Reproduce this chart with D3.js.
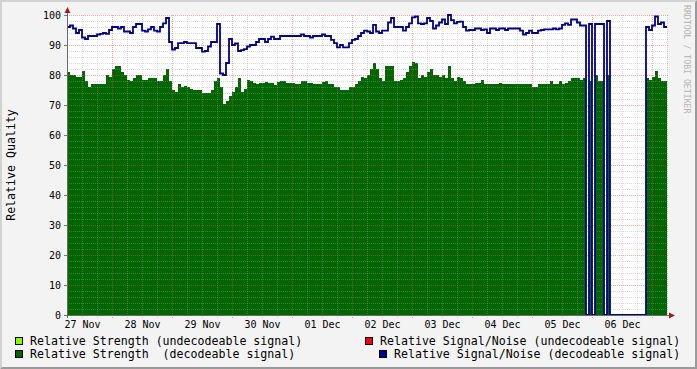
<!DOCTYPE html>
<html>
<head>
<meta charset="utf-8">
<script src="https://cdn.jsdelivr.net/npm/d3@7"></script>
<style>
  html, body { margin: 0; padding: 0; background: #f3f3f3; }
  svg { display: block; font-family: "DejaVu Sans Mono", monospace; }
</style>
</head>
<body>
<svg id="chart" width="697" height="369"></svg>
<script>
// one sample every 72 minutes, 27 Nov 06:00 -> 07 Dec 06:00
const startTime = "2008-11-27T06:00:00Z";
const endTime = "2008-12-07T06:00:00Z";
const stepMinutes = 72;

// relative strength (decodeable signal)
const strength = [
  81, 80, 80, 79.5, 79.5, 81.5, 78, 76, 77, 77,
  77, 77, 77, 80, 79.5, 82, 83, 83, 81, 80,
  78.3, 78, 79, 80, 80, 78.5, 78.5, 79, 79, 79,
  78, 78, 80, 82, 78, 75, 74.5, 77, 76, 76.5,
  76, 75.5, 75, 75, 75, 74, 74, 74, 75, 78,
  79, 76, 70.5, 71.5, 73, 74.5, 76, 79, 74.5, 75.5,
  78.3, 78, 77.2, 77, 77.2, 77.2, 77.7, 77.4, 77.2, 76.7,
  77.7, 78, 78, 77.2, 77.2, 77.2, 77, 77, 78, 78,
  77.5, 77.5, 77, 77, 77, 77.8, 78, 77, 77, 76,
  76, 75, 75, 75, 76, 76, 77, 78, 79.4, 79,
  80, 82, 84, 82, 79, 78, 83, 83, 83, 78,
  78, 78.5, 79, 81, 83, 84.5, 84, 79, 80, 79.5,
  81, 82, 80, 80, 79.5, 80, 79, 83, 79, 78,
  79.5, 79, 78, 77, 77, 77, 77.5, 77.5, 78.5, 77,
  77, 77, 77, 77, 77.5, 77, 77, 77, 77, 77,
  77, 77, 77, 77, 77, 76, 76, 77, 77, 77,
  77, 78, 77, 77, 78, 77, 77.5, 78, 79, 79,
  79, 78.5, 79, 0, 78, 0, 80, 78, 78, 0,
  80, 0, 0, 0, 0, 0, 0, 0, 0, 0,
  0, 0, 0, 79, 78.5, 79.5, 81.5, 79, 78, 78
];

// relative signal/noise (decodeable signal)
const signalNoise = [
  96, 96.5, 95.5, 94, 95, 92.5, 92, 93, 93, 93,
  93.5, 93.7, 94, 93.7, 95, 96, 96, 95.5, 96, 94.5,
  94.5, 94, 96, 97, 97, 94.8, 94.5, 95.2, 96, 94.8,
  94.5, 96, 97.2, 99, 91, 88.5, 89, 90.6, 90.6, 91,
  90.6, 90.6, 90.6, 89, 89, 87.8, 88, 89.5, 91, 91,
  97, 80.5, 80, 84, 92, 90, 90.5, 88, 88.3, 88.6,
  89.5, 90, 90, 91, 92, 92, 91, 92, 92.8, 92,
  92, 93, 93, 93, 93, 93, 93, 93, 93.5, 93,
  93, 92.5, 93, 93, 93, 93.5, 93, 93, 91.7, 90.6,
  89.2, 90, 89.2, 89.2, 90.6, 91.7, 92, 93, 94, 94.8,
  94.5, 94, 96.7, 94.5, 94, 94.8, 94.8, 97.5, 99, 96,
  96, 96, 94.8, 96, 97.2, 99.2, 99.5, 97.2, 97, 97.2,
  99, 98, 95.5, 96.5, 97.5, 98.5, 97, 100, 98.3, 97.2,
  97.7, 97.8, 96, 94.8, 95, 95, 95.5, 95.5, 95, 95.2,
  94, 95.5, 95.5, 95, 95.5, 95.5, 95, 95.5, 95.5, 95.5,
  95.5, 94.8, 93.5, 94, 94.8, 94, 94, 94.8, 95, 95.2,
  95.2, 95.2, 95.5, 95.2, 95.5, 96.7, 97.2, 96.7, 98.5, 98.5,
  97.5, 96.5, 96.5, 0, 97, 0, 97, 97, 97, 0,
  98, 0, 0, 0, 0, 0, 0, 0, 0, 0,
  0, 0, 0, 96, 95, 96.5, 99.5, 97, 97.5, 96
];

const yTickValues = [0, 10, 20, 30, 40, 50, 60, 70, 80, 90, 100];
const dayTicks = ["2008-11-27", "2008-11-28", "2008-11-29", "2008-11-30", "2008-12-01",
                  "2008-12-02", "2008-12-03", "2008-12-04", "2008-12-05", "2008-12-06"];
const dayLabels = ["27 Nov", "28 Nov", "29 Nov", "30 Nov", "01 Dec",
                   "02 Dec", "03 Dec", "04 Dec", "05 Dec", "06 Dec"];

const legendLeft = ["Relative Strength (undecodeable signal)", "Relative Strength  (decodeable signal)"];
const legendRight = ["Relative Signal/Noise (undecodeable signal)", "Relative Signal/Noise (decodeable signal)"];

const svg = d3.select("#chart"),
  W = +svg.attr("width"),
  H = +svg.attr("height"),
  margin = { top: 15, right: 30, bottom: 54, left: 67 };

const t0 = new Date(startTime), t1 = new Date(endTime);
const stepMs = stepMinutes * 60 * 1000;

const x = d3.scaleUtc().domain([t0, t1]).range([margin.left, W - margin.right]);
const y = d3.scaleLinear().domain([0, 100]).range([H - margin.bottom, margin.top]);

// frame
svg.append("rect").attr("width", W).attr("height", H).attr("fill", "#f3f3f3");
svg.append("path").attr("d", `M0,0H${W}L${W - 2},2H2V${H - 2}L0,${H}Z`).attr("fill", "#d2d2d2");
svg.append("path").attr("d", `M${W},0V${H}H0L2,${H - 2}H${W - 2}V2Z`).attr("fill", "#9a9a9a");

// plot canvas
svg.append("rect")
  .attr("x", x.range()[0]).attr("y", y(100))
  .attr("width", x.range()[1] - x.range()[0]).attr("height", y(0) - y(100))
  .attr("fill", "#ffffff");

function toPoints(arr) {
  const pts = arr.map((v, i) => ({ t: new Date(t0.getTime() + i * stepMs), v: v }));
  pts.push({ t: t1, v: arr[arr.length - 1] });
  return pts;
}

const area = d3.area()
  .x(d => x(d.t)).y0(y(0)).y1(d => y(d.v))
  .curve(d3.curveStepAfter);

svg.append("path")
  .datum(toPoints(strength))
  .attr("fill", "#006600")
  .attr("shape-rendering", "crispEdges")
  .attr("d", area);

// grid (drawn over the area, like rrdtool)
const grid = svg.append("g").attr("shape-rendering", "crispEdges");
const hGrid = d3.range(2, 101, 2);
grid.selectAll(".hg").data(hGrid).enter().append("line")
  .attr("x1", x.range()[0]).attr("x2", x.range()[1] + 2)
  .attr("y1", d => y(d)).attr("y2", d => y(d))
  .attr("stroke", d => d % 10 === 0 ? "#e05050" : "#a0a0a0")
  .attr("stroke-opacity", d => d % 10 === 0 ? 0.5 : 0.4)
  .attr("stroke-dasharray", "1,1");

const vGrid = d3.utcHour.every(6).range(new Date(t0.getTime() + 1), new Date(t1.getTime() + 1));
grid.selectAll(".vg").data(vGrid).enter().append("line")
  .attr("x1", d => x(d)).attr("x2", d => x(d))
  .attr("y1", y(100)).attr("y2", y(0) + 3)
  .attr("stroke", d => d.getUTCHours() === 0 ? "#e05050" : "#a0a0a0")
  .attr("stroke-opacity", d => d.getUTCHours() === 0 ? 0.5 : 0.4)
  .attr("stroke-dasharray", "1,1");

// signal/noise line
const line = d3.line()
  .x(d => x(d.t)).y(d => y(d.v))
  .curve(d3.curveStepAfter);

svg.append("path")
  .datum(toPoints(signalNoise))
  .attr("fill", "none")
  .attr("stroke", "#000088")
  .attr("stroke-width", 1.8)
  .attr("d", line);

// axes
const yAxis = svg.append("g")
  .attr("transform", "translate(" + margin.left + ",0)")
  .call(d3.axisLeft(y).tickValues(yTickValues).tickSize(3).tickPadding(3));
yAxis.select(".domain").remove();
yAxis.selectAll("line").attr("stroke", "#777");
yAxis.selectAll("text").attr("font-size", 10).attr("fill", "#000")
  .attr("font-family", "DejaVu Sans Mono");

const xAxis = svg.append("g")
  .attr("transform", "translate(0," + y(0) + ")")
  .call(d3.axisBottom(x)
    .tickValues(dayTicks.map(d => new Date(d + "T12:00:00Z")))
    .tickSize(0).tickPadding(6)
    .tickFormat((d, i) => dayLabels[i]));
xAxis.select(".domain").remove();
xAxis.selectAll("text").attr("font-size", 10).attr("fill", "#000")
  .attr("font-family", "DejaVu Sans Mono");

// axis lines + arrows
svg.append("line")
  .attr("x1", margin.left + 0.5).attr("x2", margin.left + 0.5)
  .attr("y1", y(0) + 3).attr("y2", 10)
  .attr("stroke", "#6a6a6a");
svg.append("line")
  .attr("x1", margin.left - 3).attr("x2", x.range()[1] + 4)
  .attr("y1", y(0) + 0.5).attr("y2", y(0) + 0.5)
  .attr("stroke", "#6a6a6a");
svg.append("path")
  .attr("d", `M${margin.left + 0.5},7L${margin.left + 3.5},13H${margin.left - 2.5}Z`)
  .attr("fill", "#a02020");
svg.append("path")
  .attr("d", `M${x.range()[1] + 8},${y(0) + 0.5}L${x.range()[1] + 2},${y(0) - 2.5}V${y(0) + 3.5}Z`)
  .attr("fill", "#a02020");

// y-axis title
svg.append("text")
  .attr("transform", "translate(14.5," + ((y(0) + y(100)) / 2) + ") rotate(-90)")
  .attr("text-anchor", "middle")
  .attr("font-size", 11.6)
  .text("Relative Quality");

// watermark
svg.append("text")
  .attr("transform", "translate(683.5,5) rotate(90)")
  .attr("font-size", 8.2)
  .attr("fill", "#b4b4b4")
  .text("RRDTOOL / TOBI OETIKER");

// legend
const legend = [
  { x: 15, y: 337, color: "#80ff00", text: legendLeft[0] },
  { x: 15, y: 350, color: "#006600", text: legendLeft[1] },
  { x: 365, y: 337, color: "#ff0000", text: legendRight[0] },
  { x: 379, y: 350, color: "#000099", text: legendRight[1] }
];
const lg = svg.append("g").selectAll("g").data(legend).enter().append("g");
lg.append("rect")
  .attr("x", d => d.x + 0.5).attr("y", d => d.y + 0.5)
  .attr("width", 7).attr("height", 7)
  .attr("fill", d => d.color).attr("stroke", "#000");
lg.append("text")
  .attr("x", d => d.x + 15).attr("y", d => d.y + 8.3)
  .attr("font-size", 11.6)
  .attr("xml:space", "preserve")
  .style("white-space", "pre")
  .text(d => d.text);
</script>
</body>
</html>
